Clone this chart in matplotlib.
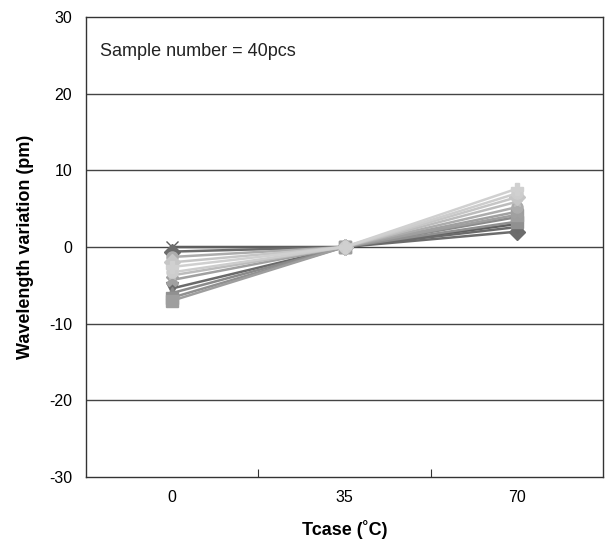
import numpy as np
import matplotlib as mpl
mpl.use('Agg')
import matplotlib.pyplot as plt

plt.rcParams['font.family'] = ['Liberation Sans', 'DejaVu Sans']

categories = ['0', '35', '70']
# wavelength variation (pm) for each sample at 0, 35, 70 degC
at_0 = [0.0, -0.6, -5.4, -6.0, -6.6, -7.0, -4.3, -1.3, -3.7, -2.0, -3.3, -2.6]
at_35 = [0.0] * 12
at_70 = [3.0, 2.0, 2.6, 3.9, 3.3, 4.2, 4.6, 5.2, 5.9, 6.5, 7.0, 7.6]
greys = ['#5e5e5e', '#6c6c6c', '#6a6a6a', '#8a8a8a', '#909090', '#9e9e9e',
         '#a0a0a0', '#acacac', '#bcbcbc', '#c6c6c6', '#cdcdcd', '#d0d0d0']
markers = ['x', 'D', 'v', '^', 's', 's', 'X', 'o', '*', 'D', 'o', 'P']

fig = plt.figure(figsize=(6.11, 5.43), dpi=100)
ax = fig.add_axes([86 / 611, 66 / 543, 517 / 611, 460 / 543])

x = np.arange(len(categories))
for i in range(len(at_0)):
    ys = [at_0[i], at_35[i], at_70[i]]
    ax.plot(x, ys, color=greys[i], lw=1.8, marker=markers[i], ms=8,
            mec=greys[i], mfc=greys[i], zorder=3)

ax.set_xlim(-0.5, 2.5)
ax.set_ylim(-30, 30)
ax.set_yticks([-30, -20, -10, 0, 10, 20, 30])
ax.set_yticklabels(['-30', '-20', '-10', '0', '10', '20', '30'])
ax.tick_params(axis='y', length=0, labelsize=11.5, pad=10)

ax.set_xticks([0.5, 1.5])
ax.set_xticklabels([])
ax.set_xticks(x, minor=True)
ax.set_xticklabels(categories, minor=True)
ax.tick_params(axis='x', which='major', direction='in', length=6, color='#333333')
ax.tick_params(axis='x', which='minor', length=0, labelsize=11.5, pad=9)

for y in [-20, -10, 0, 10, 20]:
    ax.axhline(y, color='#444444', lw=1.0, zorder=1)

for s in ax.spines.values():
    s.set_color('#333333')
    s.set_linewidth(1.0)

ax.text(0.028, 0.925, 'Sample number = 40pcs', transform=ax.transAxes,
        fontsize=13, va='center', ha='left', color='#222222')

ax.set_xlabel('Tcase (˚C)', fontsize=13, fontweight='bold', labelpad=11)
ax.set_ylabel('Wavelength variation (pm)', fontsize=13, fontweight='bold', labelpad=11)

plt.savefig('out.png', dpi=100)
